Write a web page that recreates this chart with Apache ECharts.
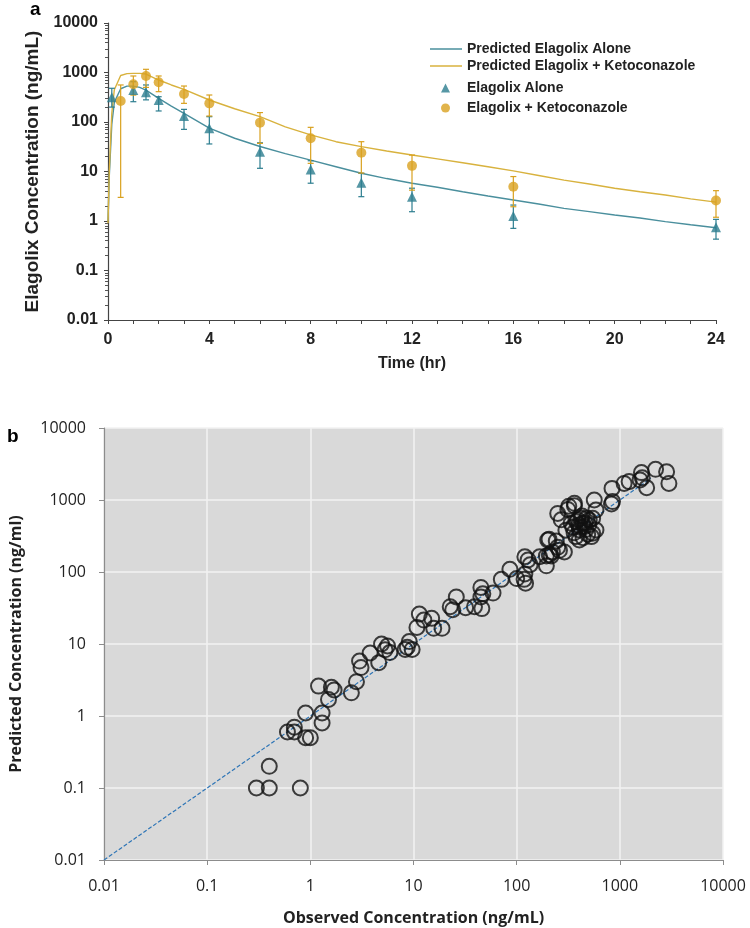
<!DOCTYPE html>
<html>
<head>
<meta charset="utf-8">
<script src="https://cdn.jsdelivr.net/npm/echarts@6/dist/echarts.min.js"></script>
<style>html,body{margin:0;padding:0;background:#fff;}#c{width:750px;height:928px;}</style>
</head>
<body>
<div id="c"></div>
<script>
// ---------- Panel a data ----------
var predTimes = [0, 0.05, 0.1, 0.15, 0.25, 0.5, 0.75, 1, 1.25, 1.5, 2, 2.5, 3, 4, 5, 6, 7, 8, 9, 10, 11, 12, 13, 14, 15, 16, 17, 18, 19, 20, 21, 22, 23, 24];
var predAlone = [1, 8, 27, 90, 250, 470, 530, 530, 500, 440, 300, 210, 150, 75, 47, 32, 23, 17, 12.5, 9.2, 7.2, 5.8, 4.8, 3.9, 3.2, 2.65, 2.2, 1.8, 1.55, 1.32, 1.15, 0.97, 0.84, 0.73];
var predKeto = [0.9, 10, 40, 150, 450, 870, 950, 960, 960, 930, 705, 560, 457, 278, 185, 128, 80, 55, 40, 31.8, 26, 21.5, 18, 15, 12.5, 10.3, 8.3, 6.7, 5.6, 4.6, 3.9, 3.35, 2.8, 2.4];

var aloneTimes = [0.15, 1, 1.5, 2, 3, 4, 6, 8, 10, 12, 16, 24];
var aloneObs = [315, 443, 400, 278, 132, 75, 25, 11, 5.9, 3.1, 1.26, 0.75];
var aloneLo = [200, 257, 280, 167, 71, 36, 11.6, 5.8, 3.1, 1.54, 0.71, 0.43];
var aloneHi = [480, 651, 560, 324, 180, 128, 38, 16.5, 9.2, 4.6, 2.1, 1.08];

var ketoTimes = [0.5, 1, 1.5, 2, 3, 4, 6, 8, 10, 12, 16, 24];
var ketoObs = [266, 577, 849, 633, 368, 238, 97, 47, 24, 13, 4.9, 2.6];
var ketoLo = [3, 350, 500, 410, 238, 132, 37, 14.6, 9.3, 4.2, 1.94, 1.19];
var ketoHi = [560, 850, 1160, 850, 533, 351, 155, 78, 40, 21.5, 7.9, 4.1];

// ---------- Panel b data ----------
var observedConc = [0.3,0.4,0.8,0.4,0.6,0.7,0.7,0.9,1.0,0.9,1.3,1.3,1.2,1.6,1.7,1.5,2.5,2.8,
  3.1,3.0,3.8,4.6,4.9,5.6,5.9,5.3,8.7,9.1,8.3,9.7,11.4,10.8,12.6,15,15.7,18.9,22.7,24,
  26,45,47,45,59,39,46,32,71,86,100,120,118,122,129,135,120,
  167,194,194,216,200,242,260,207,222,290,250,206,
  250,313,363,270,337,300,391,405,375,452,488,505,565,587,545,437,405,545,587,530,320,363,
  350,380,400,420,430,460,470,440,360,410,480,500,
  840,850,830,1100,1230,1620,1570,1820,2220,2840,2990,1650];
var predictedConc = [0.1,0.1,0.1,0.2,0.6,0.7,0.6,0.5,0.5,1.1,1.1,0.8,2.6,2.5,2.3,1.7,2.1,3.0,
  4.7,5.8,7.5,5.5,10,9.4,7.6,8.3,9,10.8,8.4,8.4,26,17,21.5,22.7,16.5,16.5,33,30,
  45,61,50,45,51,33,31,32,79,109,81,94,79,70,147,126,163,
  163,167,122,167,278,270,200,173,190,190,220,285,
  650,740,830,530,475,380,528,383,310,426,335,528,1000,726,345,475,278,556,383,310,820,900,
  420,500,450,560,600,480,390,300,350,420,560,450,
  1450,950,880,1700,1800,2400,1900,1480,2670,2470,1700,2030];
var identityLine = [[0.01, 0.01], [2000, 2000]];

var logLabels = ['0.01', '0.1', '1', '10', '100', '1000', '10000'];

// ---------- colours ----------
var teal = '#2c7d8f';
var gold = '#d9a11f';
var tealLine = '#4a8f9d';
var goldLine = '#d8b23e';

function zip(a, b) { return a.map(function (v, i) { return [v, b[i]]; }); }
function zip3(a, b, c) { return a.map(function (v, i) { return [v, b[i], c[i]]; }); }

function errRender(color) {
  return function (params, api) {
    var x = api.value(0), lo = api.value(1), hi = api.value(2);
    var p1 = api.coord([x, lo]), p2 = api.coord([x, hi]);
    var w = 3;
    var st = { stroke: color, lineWidth: 1.2 };
    return {
      type: 'group',
      children: [
        { type: 'line', shape: { x1: p1[0], y1: p1[1], x2: p2[0], y2: p2[1] }, style: st },
        { type: 'line', shape: { x1: p1[0] - w, y1: p1[1], x2: p1[0] + w, y2: p1[1] }, style: st },
        { type: 'line', shape: { x1: p2[0] - w, y1: p2[1], x2: p2[0] + w, y2: p2[1] }, style: st }
      ]
    };
  };
}

var fontA = '"Liberation Sans Narrow", "Arial Narrow", "Liberation Sans", Arial, sans-serif';
var fontB = '"Open Sans", "Noto Sans", sans-serif';

var chart = echarts.init(document.getElementById('c'), null, { renderer: 'canvas' });
var option = {
  backgroundColor: '#ffffff',
  animation: false,
  graphic: [
    { type: 'text', left: 30, top: 0, style: { text: 'a', font: 'bold 19px "Liberation Sans", Arial, sans-serif', fill: '#000' } },
    { type: 'text', left: 7, top: 427, style: { text: 'b', font: 'bold 19px "Liberation Sans", Arial, sans-serif', fill: '#000' } }
  ],
  legend: [
    {
      data: ['Predicted Elagolix Alone', 'Predicted Elagolix + Ketoconazole'],
      left: 425, top: 37, orient: 'vertical', itemGap: 3,
      icon: 'rect', itemWidth: 32, itemHeight: 1.5,
      textStyle: { fontFamily: fontA, fontWeight: 'bold', fontSize: 14, color: '#222' }
    },
    {
      data: ['Elagolix Alone', 'Elagolix + Ketoconazole'],
      left: 436, top: 76, orient: 'vertical', itemGap: 6,
      itemWidth: 9, itemHeight: 9,
      textStyle: { fontFamily: fontA, fontWeight: 'bold', fontSize: 14, color: '#222', padding: [0, 0, 0, 12] }
    }
  ],
  grid: [
    { left: 108, top: 23, width: 608, height: 297, containLabel: false },
    { left: 100, top: 428, width: 623, height: 432, containLabel: false, show: true, backgroundColor: '#d9d9d9', borderWidth: 0 }
  ],
  xAxis: [
    {
      gridIndex: 0, type: 'value', min: 0, max: 24, interval: 1,
      name: 'Time (hr)', nameLocation: 'middle', nameGap: 36,
      nameTextStyle: { fontFamily: fontA, fontWeight: 'bold', fontSize: 16, color: '#222' },
      axisLine: { lineStyle: { color: '#444', width: 1.2 } },
      axisTick: { show: true, length: 4, lineStyle: { color: '#444' } },
      axisLabel: {
        fontFamily: fontA, fontWeight: 'bold', fontSize: 16, color: '#222', margin: 12,
        formatter: function (v) { return v % 4 === 0 ? String(v) : ''; }
      },
      splitLine: { show: false }
    },
    {
      gridIndex: 1, type: 'log', logBase: 10, min: 0.01, max: 10000,
      name: 'Observed Concentration (ng/mL)', nameLocation: 'middle', nameGap: 50,
      nameTextStyle: { fontFamily: fontB, fontWeight: 'bold', fontSize: 16, color: '#222' },
      axisLine: { onZero: false, lineStyle: { color: '#8c8c8c', width: 1.2 } },
      axisTick: { show: true, length: 5, lineStyle: { color: '#8c8c8c' } },
      axisLabel: {
        fontFamily: fontB, fontSize: 16, color: '#222', margin: 18,
        formatter: function (v) { var e = Math.round(Math.log10(v)); return logLabels[e + 2]; }
      },
      splitLine: { show: true, lineStyle: { color: '#f2f2f2', width: 1.5 } }
    }
  ],
  yAxis: [
    {
      gridIndex: 0, type: 'log', logBase: 10, min: 0.01, max: 10000,
      name: 'Elagolix Concentration (ng/mL)', nameLocation: 'middle', nameGap: 60,
      nameTextStyle: { fontFamily: '"Liberation Sans", Arial, sans-serif', fontWeight: 'bold', fontSize: 19, color: '#222' },
      axisLine: { show: true, lineStyle: { color: '#444', width: 1.2 } },
      axisTick: { show: true, length: 4, lineStyle: { color: '#444' } },
      minorTick: { show: true, splitNumber: 9, length: 3, lineStyle: { color: '#555' } },
      axisLabel: {
        fontFamily: fontA, fontWeight: 'bold', fontSize: 16, color: '#222', margin: 10,
        formatter: function (v) { var e = Math.round(Math.log10(v)); return logLabels[e + 2]; }
      },
      splitLine: { show: false }
    },
    {
      gridIndex: 1, type: 'log', logBase: 10, min: 0.01, max: 10000,
      name: 'Predicted Concentration (ng/ml)', nameLocation: 'middle', nameGap: 80,
      nameTextStyle: { fontFamily: fontB, fontWeight: 'bold', fontSize: 16, color: '#222' },
      axisLine: { show: true, onZero: false, lineStyle: { color: '#8c8c8c', width: 1.2 } },
      axisTick: { show: true, length: 5, lineStyle: { color: '#8c8c8c' } },
      axisLabel: {
        fontFamily: fontB, fontSize: 16, color: '#222', margin: 18,
        formatter: function (v) { var e = Math.round(Math.log10(v)); return logLabels[e + 2]; }
      },
      splitLine: { show: true, lineStyle: { color: '#f2f2f2', width: 1.5 } }
    }
  ],
  series: [
    {
      name: 'Predicted Elagolix Alone', type: 'line', xAxisIndex: 0, yAxisIndex: 0,
      data: zip(predTimes, predAlone), showSymbol: false, symbol: 'none', smooth: false,
      lineStyle: { color: tealLine, width: 1.4 }, itemStyle: { color: tealLine }, z: 2
    },
    {
      name: 'Predicted Elagolix + Ketoconazole', type: 'line', xAxisIndex: 0, yAxisIndex: 0,
      data: zip(predTimes, predKeto), showSymbol: false, symbol: 'none', smooth: false,
      lineStyle: { color: goldLine, width: 1.4 }, itemStyle: { color: goldLine }, z: 2
    },
    {
      name: 'errAlone', type: 'custom', xAxisIndex: 0, yAxisIndex: 0,
      data: zip3(aloneTimes, aloneLo, aloneHi), renderItem: errRender(teal),
      encode: { x: 0, y: [1, 2] }, z: 3, silent: true
    },
    {
      name: 'errKeto', type: 'custom', xAxisIndex: 0, yAxisIndex: 0,
      data: zip3(ketoTimes, ketoLo, ketoHi), renderItem: errRender(gold),
      encode: { x: 0, y: [1, 2] }, z: 3, silent: true
    },
    {
      name: 'Elagolix Alone', type: 'scatter', xAxisIndex: 0, yAxisIndex: 0,
      data: zip(aloneTimes, aloneObs), symbol: 'triangle', symbolSize: 10,
      itemStyle: { color: teal }, z: 4
    },
    {
      name: 'Elagolix + Ketoconazole', type: 'scatter', xAxisIndex: 0, yAxisIndex: 0,
      data: zip(ketoTimes, ketoObs), symbol: 'circle', symbolSize: 10,
      itemStyle: { color: gold }, z: 4
    },
    {
      name: 'identity', type: 'line', xAxisIndex: 1, yAxisIndex: 1,
      data: identityLine, showSymbol: false, symbol: 'none',
      lineStyle: { color: '#2e75b6', width: 1.2, type: [4, 2] }, z: 2, silent: true
    },
    {
      name: 'obsVsPred', type: 'scatter', xAxisIndex: 1, yAxisIndex: 1,
      data: zip(observedConc, predictedConc), symbol: 'circle', symbolSize: 15,
      itemStyle: { color: 'rgba(0,0,0,0)', borderColor: '#111', borderWidth: 2 }, z: 3
    }
  ]
};
chart.setOption(option);
</script>
</body>
</html>
